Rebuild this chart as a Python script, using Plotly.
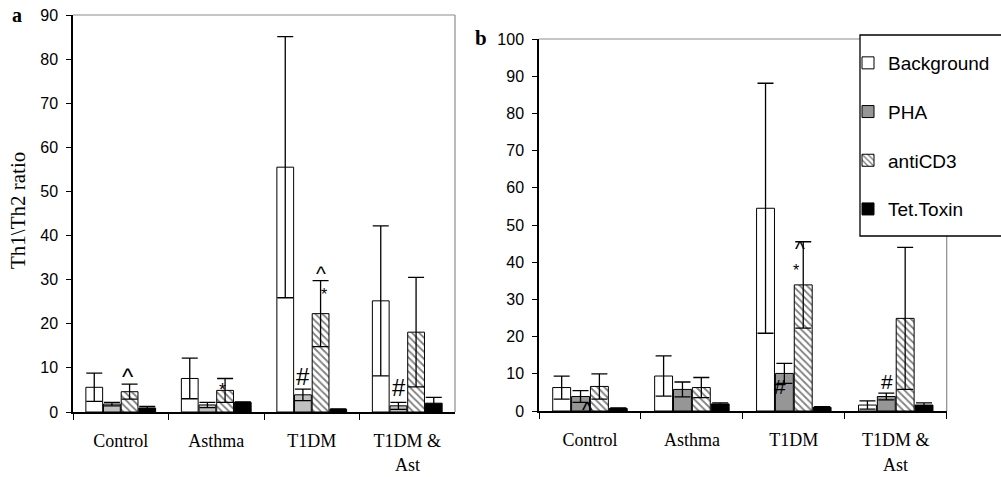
import plotly.graph_objects as go

categories = ["Control", "Asthma", "T1DM", "T1DM & Ast"]
tick_text = ["Control", "Asthma", "T1DM", "T1DM &"]
series_names = ["Background", "PHA", "antiCD3", "Tet.Toxin"]

# Panel a
a_background = [5.6, 7.6, 55.5, 25.2]
a_background_err = [3.2, 4.6, 29.6, 17.0]
a_pha = [1.8, 1.6, 3.9, 1.4]
a_pha_err = [0.4, 0.6, 1.3, 0.8]
a_anti = [4.6, 4.9, 22.3, 18.1]
a_anti_err = [1.7, 2.7, 7.5, 12.4]
a_tet = [0.9, 2.2, 0.6, 2.0]
a_tet_err = [0.35, 0.1, 0.1, 1.3]

# Panel b
b_background = [6.3, 9.4, 54.5, 1.6]
b_background_err = [3.1, 5.4, 33.6, 1.1]
b_pha = [3.9, 5.8, 10.1, 3.9]
b_pha_err = [1.6, 2.0, 2.7, 0.9]
b_anti = [6.6, 6.3, 33.9, 24.9]
b_anti_err = [3.4, 2.7, 11.6, 19.1]
b_tet = [0.7, 1.9, 1.0, 1.6]
b_tet_err = [0.1, 0.3, 0.2, 0.6]

a_ticks = [0, 10, 20, 30, 40, 50, 60, 70, 80, 90]
b_ticks = [0, 10, 20, 30, 40, 50, 60, 70, 80, 90, 100]

SERIF = "Liberation Serif"
SANS = "Liberation Sans"

W, H = 1001, 477


def PX(X):
    return X / W


def PY(Y):
    return 1 - Y / H


fig = go.Figure()


def add_panel(vals, errs, pha_color, xa, ya, legend):
    styles = [
        dict(color="white"),
        dict(color=pha_color),
        dict(color="white", pattern=dict(shape="\\", fgcolor="black", bgcolor="white",
                                          size=5, solidity=0.35)),
        dict(color="black"),
    ]
    for name, v, e, st in zip(series_names, vals, errs, styles):
        fig.add_trace(go.Bar(
            x=categories, y=v, name=name, xaxis=xa, yaxis=ya,
            marker=dict(line=dict(color="black", width=1), **st),
            error_y=dict(type="data", array=e, visible=True, color="black",
                         thickness=1.3, width=8),
            showlegend=legend, legendgroup=name,
        ))


add_panel([a_background, a_pha, a_anti, a_tet],
          [a_background_err, a_pha_err, a_anti_err, a_tet_err],
          "#c0c0c0", "x", "y", False)
add_panel([b_background, b_pha, b_anti, b_tet],
          [b_background_err, b_pha_err, b_anti_err, b_tet_err],
          "#969696", "x2", "y2", True)

xcommon = dict(type="category", range=[-0.5, 3.5], tickson="boundaries",
               ticks="outside", ticklen=6, tickcolor="black", tickwidth=1.3,
               showline=True, linecolor="black", linewidth=1.5,
               showgrid=False, zeroline=False,
               tickmode="array", tickvals=categories, ticktext=tick_text,
               tickfont=dict(family=SERIF, size=18, color="black"),
               ticklabelstandoff=12, fixedrange=True)
ycommon = dict(ticks="outside", ticklen=5, tickcolor="black", tickwidth=1.3,
               showline=True, linecolor="black", linewidth=1.5,
               showgrid=False, zeroline=False, tickmode="array",
               tickfont=dict(family=SANS, size=16, color="black"),
               ticklabelstandoff=5, fixedrange=True)

fig.update_layout(
    width=W, height=H,
    margin=dict(l=0, r=0, t=0, b=0, autoexpand=False),
    paper_bgcolor="white", plot_bgcolor="white",
    barmode="group", bargap=0.26, bargroupgap=0.05,
    xaxis=dict(domain=[PX(73), PX(455)], anchor="y", **xcommon),
    yaxis=dict(domain=[PY(412), PY(15)], anchor="x", range=[0, 90], tickvals=a_ticks, **ycommon),
    xaxis2=dict(domain=[PX(539), PX(946.7)], anchor="y2", **xcommon),
    yaxis2=dict(domain=[PY(411), PY(39)], anchor="x2", range=[0, 100], tickvals=b_ticks, **ycommon),
    legend=dict(x=PX(848), y=PY(44), xanchor="left", yanchor="top",
                borderwidth=0, bgcolor="rgba(0,0,0,0)",
                font=dict(family=SANS, size=19, color="black"),
                tracegroupgap=21, itemwidth=30, traceorder="grouped"),
    showlegend=True,
)

# gray top/right plot borders
for xr, yr in [("x", "y"), ("x2", "y2")]:
    fig.add_shape(type="line", xref=f"{xr} domain", yref=f"{yr} domain",
                  x0=0, x1=1, y0=1, y1=1, line=dict(color="#8c8c8c", width=1.2))
    fig.add_shape(type="line", xref=f"{xr} domain", yref=f"{yr} domain",
                  x0=1, x1=1, y0=0, y1=1, line=dict(color="#8c8c8c", width=1.2))

# legend frame
fig.add_shape(type="rect", xref="paper", yref="paper", layer="above",
              x0=PX(860), x1=PX(1008), y0=PY(236), y1=PY(35),
              fillcolor="white", line=dict(color="black", width=1.3))

ann = []


def txt(text, x, y, xref, yref, size, family=SANS, bold=False, angle=0):
    t = f"<b>{text}</b>" if bold else text
    ann.append(dict(text=t, x=x, y=y, xref=xref, yref=yref, showarrow=False,
                    textangle=angle, font=dict(family=family, size=size, color="black"),
                    xanchor="center", yanchor="middle"))


# panel labels and titles
txt("a", PX(17), PY(15), "paper", "paper", 20, SERIF, bold=True)
txt("b", PX(481), PY(38), "paper", "paper", 21, SERIF, bold=True)
txt("Th1\\Th2 ratio", PX(18), PY(211), "paper", "paper", 21, SERIF, angle=-90)
txt("Ast", 3, PY(465), "x", "paper", 18, SERIF)
txt("Ast", 3, PY(465), "x2", "paper", 18, SERIF)

# significance markers, panel a
txt("^", 0.08, 8.0, "x", "y", 24)
txt("*", 1.065, 5.0, "x", "y", 18)
txt("#", 1.912, 8.0, "x", "y", 24)
txt("^", 2.10, 31.43, "x", "y", 21)
txt("*", 2.125, 26.53, "x", "y", 16)
txt("#", 2.914, 5.6, "x", "y", 24)

# significance markers, panel b
txt("^", -0.025, 0.4, "x2", "y2", 22)
txt("*", 0.977, -1.75, "x2", "y2", 17)
txt("#", 1.863, 6.7, "x2", "y2", 21)
txt("^", 2.056, 43.66, "x2", "y2", 21)
txt("*", 2.023, 37.9, "x2", "y2", 16)
txt("#", 2.917, 7.85, "x2", "y2", 21)

fig.update_layout(annotations=ann)

fig.write_html("out.html")
